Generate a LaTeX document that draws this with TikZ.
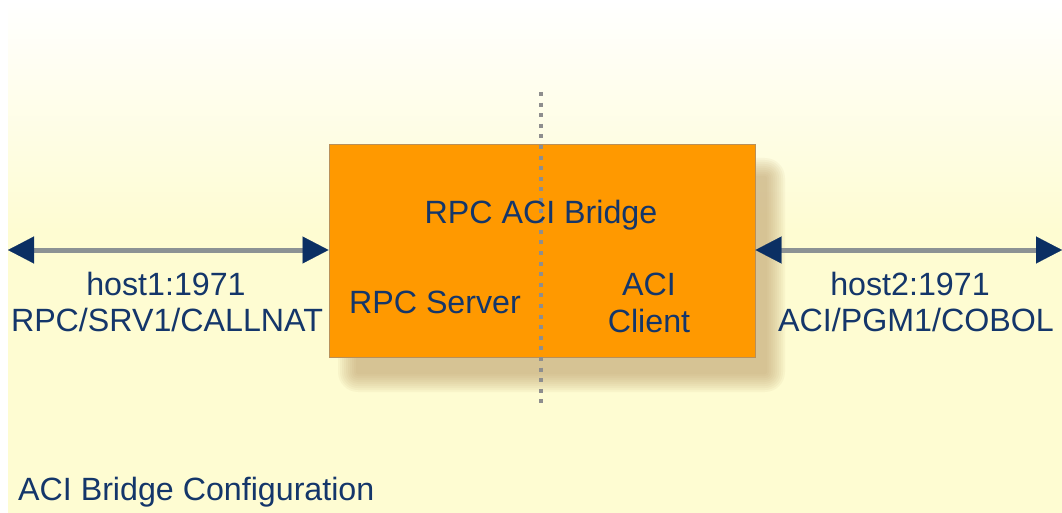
\documentclass[tikz,border=0pt]{standalone}
\usepackage{fontspec}
\setmainfont{Liberation Sans}
\usetikzlibrary{arrows.meta}
\definecolor{bgyellow}{HTML}{FEFCD2}
\definecolor{boxorange}{HTML}{FF9900}
\definecolor{boxedge}{HTML}{B8905A}
\definecolor{navy}{HTML}{14366A}
\definecolor{tipnavy}{HTML}{0B2F63}
\definecolor{linegray}{HTML}{8C9294}
\definecolor{dotgray}{HTML}{8E8E8E}
\definecolor{shadowtan}{HTML}{BC9C68}
\tikzset{
  lbl/.style={inner sep=0pt, text=navy, font=\fontsize{32.2}{37}\selectfont, anchor=base},
  bridgebox/.style={draw=boxedge, line width=1pt, fill=boxorange, minimum width=426pt, minimum height=212pt, inner sep=0pt},
  biarrow/.style={draw=linegray, line width=5pt,
    {Triangle[length=26pt,width=27pt,color=tipnavy,line width=0.1pt]}-{Triangle[length=26pt,width=27pt,color=tipnavy,line width=0.1pt]}},
  dotline/.style={draw=dotgray, line width=4pt, dash pattern=on 4pt off 6.6pt},
}
\begin{document}
\begin{tikzpicture}[x=1pt,y=-1pt]
\useasboundingbox (0,0) rectangle (1062,513);
% background
\fill[white] (0,0) rectangle (1062,513);
\shade[top color=white, bottom color=bgyellow] (8,0) rectangle (1062,230);
\fill[bgyellow] (8,229.5) rectangle (1062,513);
% blurred shadow
\foreach \r in {20,18,...,2} {
  \fill[shadowtan, opacity=0.08, rounded corners=\r pt] (358-\r,178-\r) rectangle (765+\r,372+\r);
}
% box
\node[bridgebox] (box) at (542,251) {};
% dotted divider
\coordinate (dtop) at (541,92);
\coordinate (dbot) at (541,405);
\draw[dotline] (dtop) -- (dbot);
% arrows
\coordinate (lend) at (8,250);
\coordinate (rend) at (1062,250);
\draw[biarrow] (lend) -- (box.west |- lend);
\draw[biarrow] (box.east |- rend) -- (rend);
% texts
\node[lbl] (title) at (541,223) {RPC ACI Bridge};
\node[lbl] (server) at (435,313) {RPC Server};
\node[lbl] (aci) at (649,295) {ACI};
\node[lbl] (client) at (649,332) {Client};
\node[lbl] (h1) at (166,295) {host1:1971};
\node[lbl] (h1b) at (167,331) {RPC/SRV1/CALLNAT};
\node[lbl] (h2) at (910,295) {host2:1971};
\node[lbl] (h2b) at (916,331) {ACI/PGM1/COBOL};
\node[lbl, anchor=base west] (cap) at (18,500) {ACI Bridge Configuration};
\end{tikzpicture}
\end{document}
